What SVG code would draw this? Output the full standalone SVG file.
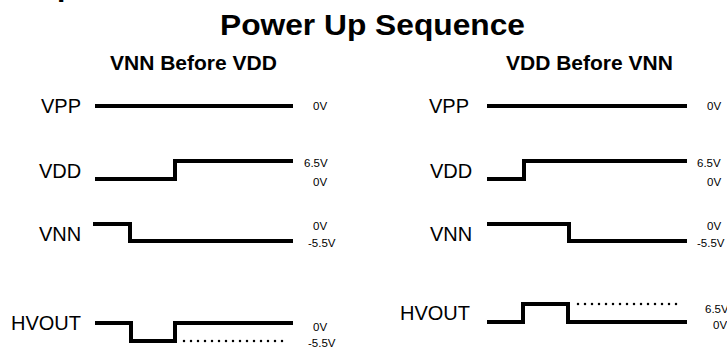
<svg xmlns="http://www.w3.org/2000/svg" width="727" height="349" viewBox="0 0 727 349">
<style>
.t{font-family:"Liberation Sans",Arial,sans-serif;fill:#000}
.title{font-size:30px;font-weight:bold}
.sub{font-size:21px;font-weight:bold}
.lab{font-size:20px}
.v{font-size:11.5px}
.w{fill:none;stroke:#000;stroke-width:4;stroke-linejoin:miter;stroke-linecap:butt}
.d{fill:none;stroke:#000;stroke-width:2.5;stroke-dasharray:0 7;stroke-linecap:round}
</style>
<rect width="727" height="349" fill="#fff"/>
<text class="t title" x="57" y="-4" font-size="36">p</text>
<text class="t title" x="220" y="35" textLength="305" lengthAdjust="spacingAndGlyphs">Power Up Sequence</text>
<text class="t sub" x="110" y="70">VNN Before VDD</text>
<text class="t sub" x="506" y="70">VDD Before VNN</text>

<g id="left-vpp">
<text class="t lab" x="41" y="113">VPP</text>
<text class="t v" x="313" y="110">0V</text>
</g>
<g id="left-vdd">
<text class="t lab" x="39" y="178">VDD</text>
<text class="t v" x="304" y="167">6.5V</text>
<text class="t v" x="313" y="186">0V</text>
</g>
<g id="left-vnn">
<text class="t lab" x="39" y="241">VNN</text>
<text class="t v" x="313" y="230">0V</text>
<text class="t v" x="308" y="247">-5.5V</text>
</g>
<g id="left-hvout">
<text class="t lab" x="11" y="330">HVOUT</text>
<text class="t v" x="313" y="331">0V</text>
<text class="t v" x="308" y="347">-5.5V</text>
</g>
<g id="right-vpp">
<text class="t lab" x="429" y="113">VPP</text>
<text class="t v" x="707" y="110">0V</text>
</g>
<g id="right-vdd">
<text class="t lab" x="430" y="178">VDD</text>
<text class="t v" x="697" y="167">6.5V</text>
<text class="t v" x="707" y="186">0V</text>
</g>
<g id="right-vnn">
<text class="t lab" x="430" y="241">VNN</text>
<text class="t v" x="707" y="230">0V</text>
<text class="t v" x="697" y="247">-5.5V</text>
</g>
<g id="right-hvout">
<text class="t lab" x="400" y="320">HVOUT</text>
<text class="t v" x="705" y="313">6.5V</text>
<text class="t v" x="713" y="329">0V</text>
</g>

<g id="connectors">
<path class="w" d="M95 106H293"/>
<path class="w" d="M95 179H175V161H293"/>
<path class="w" d="M93 224H130V241H293"/>
<path class="w" d="M95 323H131V341H175V323H293"/>
<path class="d" d="M184 341H288"/>
<path class="w" d="M487 106H687"/>
<path class="w" d="M487 179H524V161H687"/>
<path class="w" d="M487 224H569V241H687"/>
<path class="w" d="M487 322H523V304H568V322H687"/>
<path class="d" d="M578 304H677"/>
</g>
</svg>
